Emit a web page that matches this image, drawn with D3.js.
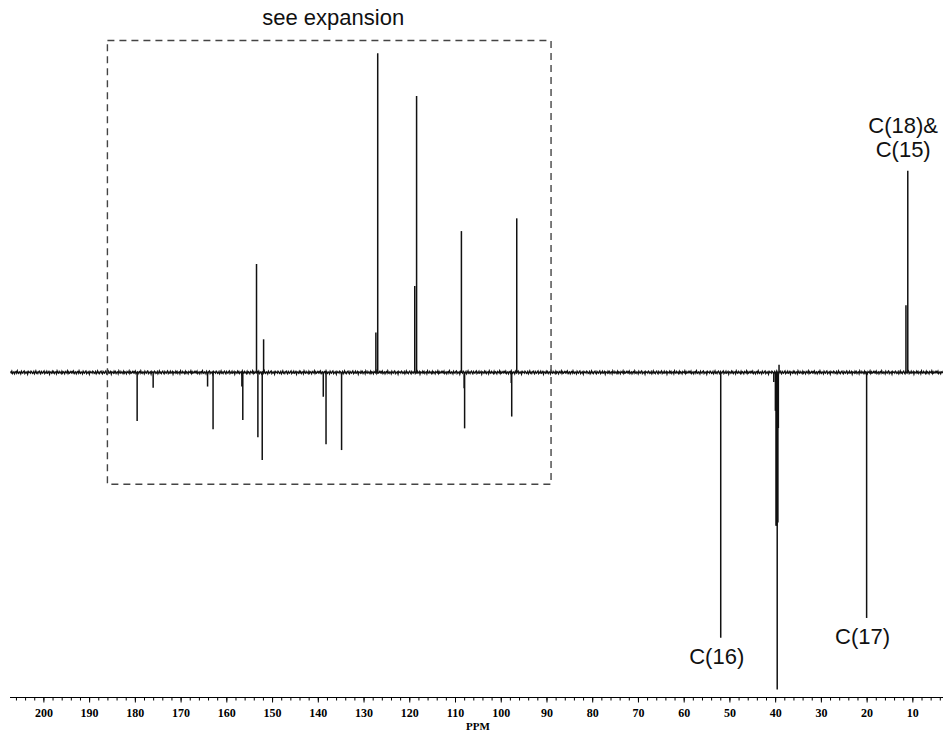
<!DOCTYPE html>
<html>

<head>
    <meta charset="utf-8">
    <style>
        body {
            margin: 0;
            background: white;
        }

        svg {
            display: block;
        }

        .label {
            font-family: 'Liberation Sans', Arial, sans-serif;
            font-size: 22px;
            fill: #111;
        }

        .axis text {
            font-family: 'Liberation Serif', 'Times New Roman', serif;
            font-weight: bold;
            font-size: 12px;
        }
    </style>
</head>

<body>
    <svg width="943" height="731"></svg>
</body>

<script src="https://d3js.org/d3.v7.min.js"></script>

<script>
    // chemical shifts (ppm) and heights (tallest peak = 100)
    let peakShift = [179.5, 176.0, 164.1, 162.9, 156.6, 156.4, 153.4, 153.1, 152.15, 151.85,
        138.8, 138.2, 134.8, 127.3, 126.9, 118.8, 118.4, 108.6, 108.0, 107.9,
        97.7, 97.6, 96.5, 51.9, 40.3, 39.95, 39.8, 39.7, 39.55, 39.4, 39.3, 39.15,
        20.0, 11.4, 11.0];
    let peakHeight = [-15.2, -4.8, -4.4, -17.8, -4.4, -14.9, 34.0, -20.3, -27.4, 10.4,
        -7.6, -22.5, -24.3, 12.5, 100, 27.1, 86.6, 44.3, -4.9, -17.5,
        -3.3, -13.8, 48.3, -83.1, -3.0, -12, -48, -48, -99.3, -47, -17.4, 2.4,
        -76.9, 21.1, 63.2];

    // baseline noise, hand-typed, walked along the spectrum
    let noise = [0.3, -0.1, 0.4, -0.3, 0.0, 0.2, -0.4, 0.1, 0.3, -0.2, 0.5, -0.1, -0.3, 0.2, 0.1,
        -0.4, 0.4, 0.0, -0.2, 0.3, 0.5, -0.3, 0.1, -0.1, 0.2, -0.5, 0.3, 0.0, 0.1, -0.2,
        0.4, 0.2, -0.3, -0.1, 0.3, -0.4, 0.0, 0.5, -0.2, 0.1, -0.3, 0.2, 0.4, -0.1, -0.4,
        0.3, 0.0, -0.2, 0.2, 0.5, -0.3, 0.1, -0.1, 0.4, -0.2, 0.0, 0.3, -0.5, 0.2, 0.1,
        -0.2, 0.4, -0.1, 0.3, -0.3, 0.1, 0.2, -0.4, 0.5, 0.0, -0.2, 0.3, -0.1, 0.1, -0.3,
        0.4, -0.2, 0.2, 0.0, -0.4, 0.3, 0.1, -0.1, 0.5, -0.3, 0.2, -0.2, 0.0, 0.3, -0.1];

    let majorTicks = [200, 190, 180, 170, 160, 150, 140, 130, 120, 110, 100, 90, 80, 70, 60, 50, 40, 30, 20, 10];

    // peak labels
    let labelText = ["C(16)", "C(17)"];
    let labelShift = [51.9, 20.0];
    let stackedLabel = ["C(18)&", "C(15)"];
    let stackedShift = 12.0;

    // dashed "see expansion" window, in ppm and height units
    let expansionShift = [186, 89];
    let expansionHeight = [104, -35];

    let svg = d3.select("svg");

    let x = d3.scaleLinear()
        .domain([207.3, 3.3])
        .range([10, 943]);

    let y = d3.scaleLinear()
        .domain([0, 100])
        .range([372.5, 53.3]);

    // baseline with noise
    let basePts = d3.range(207.2, 3.3, -0.15).map((p, i) => [p, noise[i % noise.length]]);
    svg.append("path")
        .datum(basePts)
        .attr("d", d3.line().x(d => x(d[0])).y(d => y(d[1])))
        .attr("fill", "none")
        .attr("stroke", "#111")
        .attr("stroke-width", 1.3);

    // peaks
    let peaks = peakShift.map((p, i) => ({ ppm: p, h: peakHeight[i] }));
    svg.append("g")
        .selectAll("line")
        .data(peaks)
        .join("line")
        .attr("x1", d => x(d.ppm))
        .attr("x2", d => x(d.ppm))
        .attr("y1", y(0))
        .attr("y2", d => y(d.h))
        .attr("stroke", "#111")
        .attr("stroke-width", 1.5);

    // expansion box
    svg.append("rect")
        .attr("x", x(expansionShift[0]))
        .attr("y", y(expansionHeight[0]))
        .attr("width", x(expansionShift[1]) - x(expansionShift[0]))
        .attr("height", y(expansionHeight[1]) - y(expansionHeight[0]))
        .attr("fill", "none")
        .attr("stroke", "#444")
        .attr("stroke-width", 1.4)
        .attr("stroke-dasharray", "7,5");

    svg.append("text")
        .attr("class", "label")
        .attr("x", (x(expansionShift[0]) + x(expansionShift[1])) / 2 + 4)
        .attr("y", 25)
        .attr("text-anchor", "middle")
        .text("see expansion");

    // labels under negative peaks
    svg.selectAll(".peak-label")
        .data(labelText)
        .join("text")
        .attr("class", "label peak-label")
        .attr("text-anchor", "middle")
        .attr("x", (d, i) => x(labelShift[i]) - 4)
        .attr("y", (d, i) => y(peakHeight[peakShift.indexOf(labelShift[i])]) + 26)
        .text(d => d);

    svg.selectAll(".stack-label")
        .data(stackedLabel)
        .join("text")
        .attr("class", "label stack-label")
        .attr("text-anchor", "middle")
        .attr("x", x(stackedShift))
        .attr("y", (d, i) => 133 + i * 24)
        .text(d => d);

    // axis
    let axisG = svg.append("g")
        .attr("class", "axis")
        .attr("transform", "translate(0,697.5)");

    axisG.call(d3.axisBottom(x)
        .tickValues(d3.range(4, 208, 2))
        .tickSize(3)
        .tickFormat(""));

    axisG.call(g => g.select(".domain").attr("d", "M10,0H943"));

    let major = svg.append("g")
        .attr("class", "axis")
        .attr("transform", "translate(0,697.5)")
        .call(d3.axisBottom(x)
            .tickValues(majorTicks)
            .tickSize(5)
            .tickPadding(6)
            .tickFormat(d3.format("d")));
    major.select(".domain").remove();

    svg.append("text")
        .attr("x", 478)
        .attr("y", 730)
        .attr("text-anchor", "middle")
        .style("font-family", "'Liberation Serif', serif")
        .style("font-weight", "bold")
        .style("font-size", "11px")
        .text("PPM");
</script>

</html>
